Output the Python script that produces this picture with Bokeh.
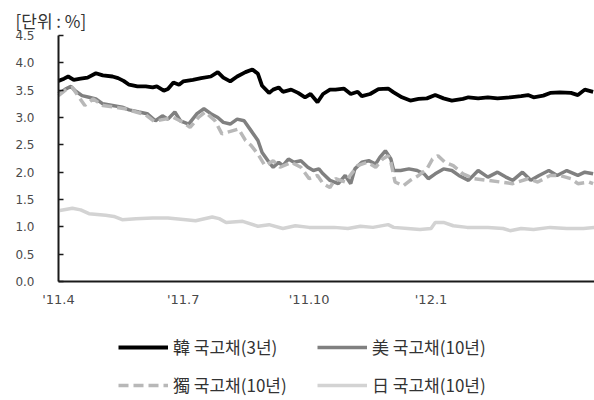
from bokeh.plotting import figure
from bokeh.models import Legend, LegendItem, FixedTicker, NumeralTickFormatter, Range1d, Label
from bokeh.embed import file_html
from bokeh.resources import INLINE

# x = days since 2011-04-01
kr_x = [0, 4, 7, 11, 16, 21, 27, 32, 39, 43, 47, 51, 57, 63, 68, 71, 76, 79, 83, 87, 90, 97,
        103, 110, 115, 119, 124, 129, 135, 140, 144, 147, 152, 155, 159, 162, 168, 173, 178,
        182, 187, 191, 196, 200, 206, 211, 216, 219, 225, 231, 238, 242, 248, 254, 260, 266,
        272, 278, 284, 292, 296, 303, 310, 317, 326, 334, 339, 343, 350, 355, 362, 370, 375,
        380, 386]
kr_y = [3.67, 3.71, 3.75, 3.69, 3.71, 3.73, 3.81, 3.77, 3.75, 3.72, 3.67, 3.60, 3.57, 3.57,
        3.55, 3.57, 3.49, 3.52, 3.64, 3.60, 3.66, 3.69, 3.72, 3.75, 3.83, 3.73, 3.66, 3.75,
        3.83, 3.88, 3.80, 3.58, 3.45, 3.51, 3.55, 3.47, 3.51, 3.45, 3.37, 3.43, 3.28, 3.43,
        3.51, 3.51, 3.53, 3.43, 3.47, 3.39, 3.43, 3.52, 3.53, 3.46, 3.37, 3.31, 3.34, 3.35,
        3.41, 3.35, 3.31, 3.34, 3.37, 3.35, 3.37, 3.35, 3.37, 3.39, 3.41, 3.37, 3.40, 3.45,
        3.46, 3.45, 3.41, 3.51, 3.47]

us_x = [0, 5, 9, 12, 17, 22, 27, 32, 39, 46, 51, 58, 64, 70, 75, 79, 84, 88, 94, 100, 105,
        110, 115, 119, 124, 129, 134, 139, 144, 147, 152, 155, 159, 162, 166, 170, 175, 180,
        184, 188, 191, 196, 202, 207, 211, 214, 219, 224, 229, 232, 236, 240, 242, 247, 253,
        259, 264, 267, 272, 278, 284, 289, 296, 303, 310, 317, 323, 328, 335, 341, 347, 354,
        360, 367, 375, 380, 386]
us_y = [3.43, 3.52, 3.57, 3.49, 3.40, 3.37, 3.34, 3.25, 3.22, 3.19, 3.14, 3.10, 3.07, 2.94,
        3.03, 2.97, 3.10, 2.94, 2.88, 3.07, 3.16, 3.07, 3.00, 2.91, 2.88, 2.97, 2.94, 2.76,
        2.58, 2.36, 2.18, 2.09, 2.18, 2.12, 2.24, 2.18, 2.21, 2.09, 2.03, 2.06, 1.97, 1.85,
        1.79, 1.94, 1.79, 2.06, 2.18, 2.21, 2.15, 2.27, 2.39, 2.24, 2.03, 2.03, 2.06, 2.03,
        1.97, 1.88, 1.97, 2.06, 2.03, 1.94, 1.85, 2.03, 1.91, 2.00, 1.91, 1.85, 2.00, 1.85,
        1.94, 2.03, 1.94, 2.03, 1.94, 2.00, 1.97]

de_x = [0, 6, 10, 14, 19, 25, 32, 41, 48, 56, 63, 69, 77, 83, 90, 95, 101, 106, 113, 118,
        126, 130, 135, 139, 144, 149, 155, 160, 168, 175, 181, 187, 191, 196, 200, 207, 216,
        223, 229, 234, 238, 240, 243, 249, 254, 260, 266, 270, 274, 279, 285, 292, 300, 310,
        319, 328, 339, 346, 355, 362, 370, 375, 383, 386]
de_y = [3.40, 3.52, 3.55, 3.40, 3.22, 3.34, 3.22, 3.19, 3.16, 3.10, 3.05, 2.93, 2.97, 3.00,
        2.91, 2.82, 3.00, 3.10, 2.94, 2.70, 2.76, 2.79, 2.58, 2.49, 2.33, 2.12, 2.21, 2.09,
        2.18, 2.09, 1.88, 1.94, 1.79, 1.72, 1.88, 1.82, 2.12, 2.18, 2.09, 2.24, 2.30, 2.18,
        1.82, 1.75, 1.85, 1.94, 2.06, 2.24, 2.30, 2.18, 2.12, 1.97, 1.88, 1.85, 1.82, 1.79,
        1.88, 1.82, 1.94, 1.94, 1.88, 1.79, 1.82, 1.79]

jp_x = [1, 10, 16, 22, 34, 40, 46, 56, 68, 79, 92, 99, 111, 116, 121, 133, 144, 152, 162,
        171, 181, 191, 199, 209, 218, 227, 238, 242, 252, 261, 269, 272, 278, 285, 295, 310,
        321, 326, 334, 343, 355, 367, 379, 387]
jp_y = [1.30, 1.34, 1.31, 1.24, 1.21, 1.19, 1.13, 1.15, 1.16, 1.16, 1.13, 1.11, 1.18, 1.15,
        1.08, 1.10, 1.01, 1.04, 0.97, 1.02, 0.99, 0.99, 0.99, 0.97, 1.01, 0.99, 1.04, 0.99,
        0.97, 0.95, 0.97, 1.08, 1.08, 1.02, 0.99, 0.99, 0.97, 0.93, 0.97, 0.95, 0.99, 0.97,
        0.97, 0.99]

tick_days = [0, 90, 181, 269]
tick_labels = ["'11.4", "'11.7", "'11.10", "'12.1"]
y_ticks = [0.0, 0.5, 1.0, 1.5, 2.0, 2.5, 3.0, 3.5, 4.0, 4.5]

series_names = ["韓 국고채(3년)", "美 국고채(10년)", "獨 국고채(10년)", "日 국고채(10년)"]
unit_text = "[단위 : %]"

kr_font = "Noto Sans CJK KR"
num_font = "DejaVu Sans"

W, H = 594, 400
# plot area inside the canvas (pixels): left 58, right 594, top 35, bottom 281
X_END = 387.0
Y_TOP = 4.5
px_per_day = (594 - 58) / X_END
px_per_unit = (281 - 35) / Y_TOP
x_start = -58 / px_per_day
y_start = -(H - 281) / px_per_unit
y_end = Y_TOP + 35 / px_per_unit

p = figure(width=W, height=H, output_backend="svg", toolbar_location=None,
           x_range=Range1d(x_start, X_END), y_range=Range1d(y_start, y_end),
           min_border=0, min_border_left=0, min_border_right=0,
           min_border_top=0, min_border_bottom=0)
p.outline_line_color = None
p.grid.visible = False
p.background_fill_color = "white"
p.border_fill_color = "white"

p.yaxis.fixed_location = 0
p.yaxis.bounds = (0, Y_TOP)
p.yaxis.ticker = FixedTicker(ticks=y_ticks)
p.yaxis.formatter = NumeralTickFormatter(format="0.0")
p.yaxis.major_tick_in = 5
p.yaxis.major_tick_out = 0
p.yaxis.minor_tick_line_color = None
p.yaxis.axis_line_width = 2
p.yaxis.axis_line_color = "#1a1a1a"
p.yaxis.major_tick_line_color = "#1a1a1a"
p.yaxis.major_tick_line_width = 1.5
p.yaxis.major_label_standoff = 24
p.yaxis.major_label_text_font = num_font
p.yaxis.major_label_text_font_size = "12px"
p.yaxis.major_label_text_color = "#4a4a4a"

p.xaxis.fixed_location = 0
p.xaxis.bounds = (0, X_END)
p.xaxis.ticker = FixedTicker(ticks=tick_days)
p.xaxis.major_label_overrides = {d: l for d, l in zip(tick_days, tick_labels)}
p.xaxis.major_tick_line_color = None
p.xaxis.minor_tick_line_color = None
p.xaxis.major_tick_in = 0
p.xaxis.major_tick_out = 0
p.xaxis.axis_line_width = 2
p.xaxis.axis_line_color = "#1a1a1a"
p.xaxis.major_label_standoff = 10
p.xaxis.major_label_text_font = num_font
p.xaxis.major_label_text_font_size = "13px"
p.xaxis.major_label_text_color = "#4a4a4a"

r_jp = p.line(jp_x, jp_y, line_color="#d3d3d3", line_width=3.5)
r_us = p.line(us_x, us_y, line_color="#808080", line_width=3.5)
r_de = p.line(de_x, de_y, line_color="#b8b8b8", line_width=3.5, line_dash="10 5")
r_kr = p.line(kr_x, kr_y, line_color="#000000", line_width=3.8)

legend = Legend(items=[LegendItem(label=series_names[0], renderers=[r_kr]),
                       LegendItem(label=series_names[1], renderers=[r_us]),
                       LegendItem(label=series_names[2], renderers=[r_de]),
                       LegendItem(label=series_names[3], renderers=[r_jp])],
                location=(118, 3), orientation="horizontal", ncols=2,
                glyph_width=50, glyph_height=14, label_height=14, label_width=131,
                spacing=13, label_standoff=5, padding=0, margin=0,
                border_line_color=None, background_fill_alpha=0,
                label_text_font=kr_font, label_text_font_size="17px",
                label_text_color="#333333")
p.add_layout(legend, "center")

unit = Label(x=15, y=H - 7, x_units="screen", y_units="screen", text=unit_text,
             text_font=kr_font, text_font_size="17px", text_color="#333333",
             text_baseline="top")
p.add_layout(unit)

open("out.html", "w").write(file_html(p, INLINE))
